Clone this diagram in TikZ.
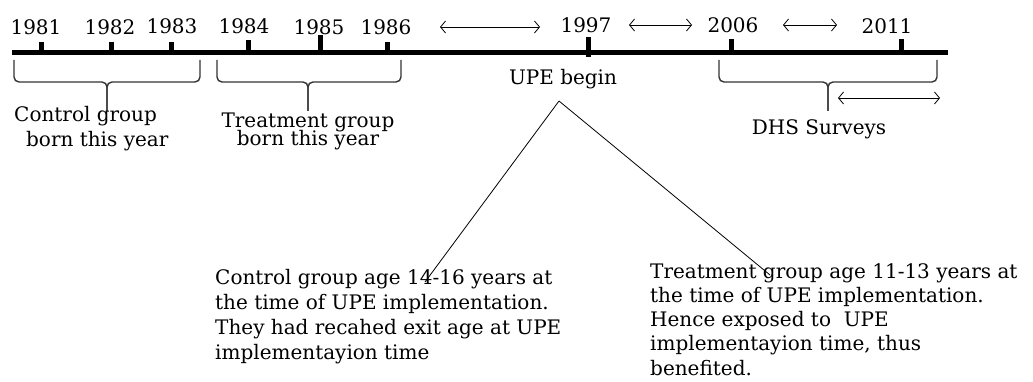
\documentclass[tikz,border=0pt]{standalone}
\usepackage{fontspec}
\setmainfont{DejaVu Serif}
\usetikzlibrary{arrows.meta}

\begin{document}
\begin{tikzpicture}[x=1pt,y=-1pt,
    yearlabel/.style={font=\fontsize{20}{24}\selectfont, inner sep=0pt},
    grouplabel/.style={font=\fontsize{20}{25}\selectfont, align=center, inner sep=0pt},
    notelabel/.style={font=\fontsize{20}{25}\selectfont, align=left, anchor=north west, inner sep=0pt},
    axis/.style={line width=5pt},
    tickmark/.style={line width=5pt},
    ubrace/.style={line width=1.4pt, rounded corners=5pt, black!80},
    span/.style={{Straight Barb[length=5pt,width=12pt]}-{Straight Barb[length=5pt,width=12pt]}, line width=0.8pt},
    pointer/.style={line width=0.8pt}
]
\useasboundingbox (0,0) rectangle (1033,382);

% time axis
\coordinate (axisstart) at (12,53);
\coordinate (axisend) at (948,53);
\draw[axis] (axisstart) -- (axisend);

% years
\node[yearlabel](y1981) at (36,27){1981};
\node[yearlabel](y1982) at (110,27){1982};
\node[yearlabel](y1983) at (172,26){1983};
\node[yearlabel](y1984) at (244,26){1984};
\node[yearlabel](y1985) at (319,27){1985};
\node[yearlabel](y1986) at (386,27){1986};
\node[yearlabel](y1997) at (586,25){1997};
\node[yearlabel](y2006) at (733,25){2006};
\node[yearlabel](y2011) at (887,26){2011};

\draw[tickmark] (41,42) -- (41,53);
\draw[tickmark] (111,42) -- (111,53);
\draw[tickmark] (171,42) -- (171,53);
\draw[tickmark] (248,40) -- (248,53);
\draw[tickmark] (320,35) -- (320,53);
\draw[tickmark] (387,42) -- (387,55);
\draw[tickmark] (588,37) -- (588,57);
\draw[tickmark] (731,39) -- (731,53);
\draw[tickmark] (901,39) -- (901,53);

% gaps between years
\coordinate (gapAl) at (440,27);
\coordinate (gapAr) at (540,27);
\coordinate (gapBl) at (629,25);
\coordinate (gapBr) at (692,25);
\coordinate (gapCl) at (783,25);
\coordinate (gapCr) at (837,25);
\draw[span] (gapAl) -- (gapAr);
\draw[span] (gapBl) -- (gapBr);
\draw[span] (gapCl) -- (gapCr);

% cohorts
\draw[ubrace] (14,60) -- (14,82) -- (107,82) -- (107,111);
\draw[ubrace] (107,111) -- (107,82) -- (200,82) -- (200,60);
\node[grouplabel, align=left, anchor=west](control) at (14,129){Control group\\\hspace*{12pt}born this year};

\draw[ubrace] (217,60) -- (217,82) -- (308,82) -- (308,111);
\draw[ubrace] (308,111) -- (308,82) -- (401,82) -- (401,60);
\node[grouplabel](treatment) at (308,131){Treatment group\\[-7pt]born this year};

% surveys
\draw[ubrace] (719,60) -- (719,82) -- (828,82) -- (828,111);
\draw[ubrace] (828,111) -- (828,82) -- (937,82) -- (937,60);
\coordinate (dhsl) at (838,98);
\coordinate (dhsr) at (940,98);
\draw[span] (dhsl) -- (dhsr);
\node[grouplabel](dhs) at (819,129){DHS Surveys};

% UPE
\node[grouplabel](upe) at (563,79){UPE begin};
\coordinate (apex) at (559,101);
\node[notelabel](controlnote) at (215,269){Control group age 14-16 years at\\the time of UPE implementation.\\They had recahed exit age at UPE\\implementayion time};
\node[notelabel, font=\fontsize{20}{24.3}\selectfont](treatnote) at (650,263){Treatment group age 11-13 years at\\the time of UPE implementation.\\Hence exposed to \ UPE\\implementayion time, thus\\benefited.};
\coordinate (controlend) at (425,282);
\coordinate (treatend) at (770,275);
\draw[pointer] (apex) -- (controlend);
\draw[pointer] (apex) -- (treatend);
\end{tikzpicture}
\end{document}
